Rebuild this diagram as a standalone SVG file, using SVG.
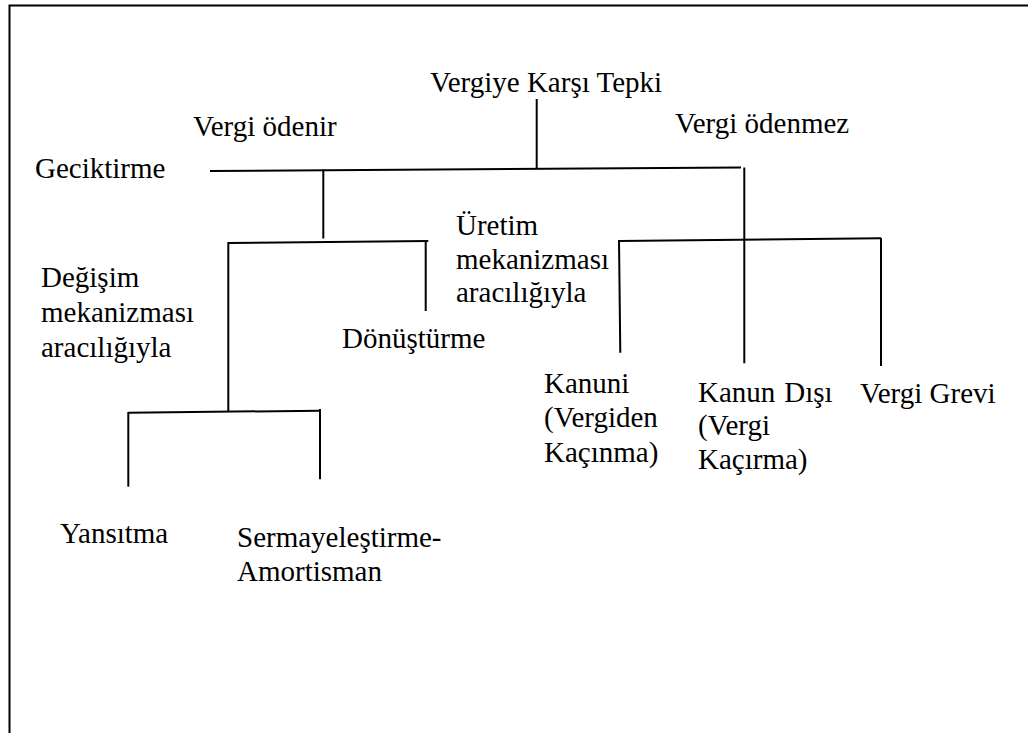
<svg xmlns="http://www.w3.org/2000/svg" width="1028" height="733" viewBox="0 0 1028 733">
<style>
text{font-family:'Liberation Serif','Times New Roman',Tinos,Times,'DejaVu Serif','Noto Serif',serif;font-size:29px;fill:#000}
.ln{stroke:#000;stroke-width:2;fill:none;stroke-linecap:butt}
</style>
<rect width="1028" height="733" fill="#fff"/>
<g id="frame">
<path class="ln" d="M9.5,733 V5.5 H1028"/>
</g>
<g id="connectors">
<path class="ln" d="M536.7,99 V168.5"/>
<path class="ln" d="M210,171 L741,167.5"/>
<path class="ln" d="M323.3,169.5 V238.5"/>
<path class="ln" d="M744.3,167.5 V363.3"/>
<path class="ln" d="M228.3,243 L428.3,241"/>
<path class="ln" d="M228.3,242 V411.7"/>
<path class="ln" d="M425.7,241 V311"/>
<path class="ln" d="M619,241 L881,238.3"/>
<path class="ln" d="M619,240 L620.3,352.7"/>
<path class="ln" d="M881,238 V366"/>
<path class="ln" d="M128.3,412.7 L320.7,410.7"/>
<path class="ln" d="M128.3,412 V486.7"/>
<path class="ln" d="M320,409 V479.3"/>
</g>
<g font-family="Liberation Serif, Times New Roman, serif">
<g id="n-root"><text x="430" y="92">Vergiye Karşı Tepki</text></g>
<g id="n-odenir"><text x="193" y="136">Vergi ödenir</text></g>
<g id="n-odenmez"><text x="675" y="133">Vergi ödenmez</text></g>
<g id="n-geciktirme"><text x="35" y="178">Geciktirme</text></g>
<g id="n-uretim"><text x="456" y="235"><tspan x="456">Üretim</tspan><tspan x="456" y="269">mekanizması</tspan><tspan x="456" y="302">aracılığıyla</tspan></text></g>
<g id="n-degisim"><text x="41" y="287"><tspan x="41">Değişim</tspan><tspan x="41" y="322">mekanizması</tspan><tspan x="41" y="356.5">aracılığıyla</tspan></text></g>
<g id="n-donusturme"><text x="342" y="348">Dönüştürme</text></g>
<g id="n-kanuni"><text x="544" y="393"><tspan x="544">Kanuni</tspan><tspan x="544" y="427">(Vergiden</tspan><tspan x="544" y="461.5">Kaçınma)</tspan></text></g>
<g id="n-kanundisi"><text x="698" y="401.5"><tspan x="698">Kanun</tspan><tspan dx="9">Dışı</tspan><tspan x="698" y="435">(Vergi</tspan><tspan x="698" y="469">Kaçırma)</tspan></text></g>
<g id="n-grev"><text x="860" y="403">Vergi Grevi</text></g>
<g id="n-yansitma"><text x="60" y="542.5">Yansıtma</text></g>
<g id="n-sermaye"><text x="237" y="546.5"><tspan x="237">Sermayeleştirme-</tspan><tspan x="237" y="580.5">Amortisman</tspan></text></g>
</g>
</svg>
